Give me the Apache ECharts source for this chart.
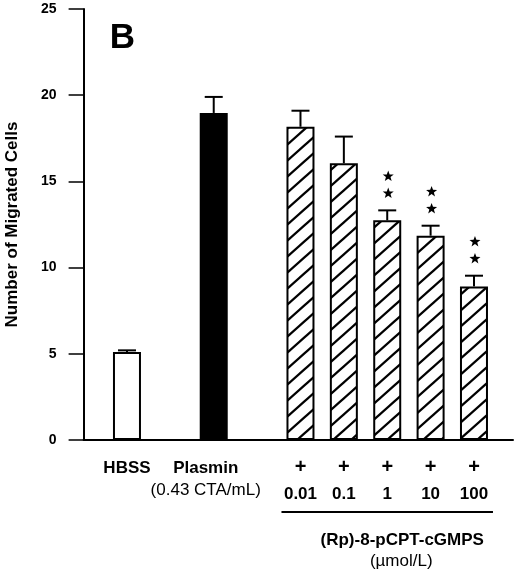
<!DOCTYPE html>
<html><head><meta charset="utf-8">
<script src="https://cdn.jsdelivr.net/npm/echarts@6/dist/echarts.min.js"></script>
<style>html,body{margin:0;padding:0;background:#fff}#c{width:520px;height:571px}</style>
</head><body><div id="c"></div>
<script>
// ---- data ----
const categories = ['HBSS', 'Plasmin', '0.01', '0.1', '1', '10', '100'];
const means = [5.1, 18.97, 18.17, 16.05, 12.74, 11.85, 8.91];
const errors = [0.1, 0.93, 0.93, 1.55, 0.58, 0.58, 0.62];
const stars = [0, 0, 0, 0, 2, 2, 2];
const plasminDose = '(0.43 CTA/mL)';
const drugMark = '+';
const drugName = '(Rp)-8-pCPT-cGMPS';
const drugUnit = '(µmol/L)';
const yTicks = [0, 5, 10, 15, 20, 25];
const panelLabel = 'B';
const yTitle = 'Number of Migrated Cells';

// ---- layout helpers ----
const FF = '"Liberation Sans", Arial, Helvetica, sans-serif';
// HBSS, gap, Plasmin, gap, five doses
const slotOf = i => (i < 2 ? 1 + 2 * i : i + 3);

function hatchCanvas() {
  const w = 18, h = 16, c = document.createElement('canvas');
  c.width = w; c.height = h;
  const g = c.getContext('2d');
  g.fillStyle = '#fff'; g.fillRect(0, 0, w, h);
  g.strokeStyle = '#000'; g.lineWidth = 2.3;
  for (let k = -1; k <= 1; k++) {
    g.beginPath();
    g.moveTo(-2, h + k * h + 2 * h / w);
    g.lineTo(w + 2, k * h - 2 * h / w);
    g.stroke();
  }
  return c;
}
const hatch = { image: hatchCanvas(), repeat: 'repeat' };

function styleFor(i) {
  const base = { borderColor: '#000', borderWidth: 2 };
  if (i === 0) return Object.assign({ color: '#fff' }, base);
  if (i === 1) return Object.assign({ color: '#000' }, base);
  return Object.assign({ color: hatch }, base);
}

function starPts(cx, cy, R, r) {
  const p = [];
  for (let j = 0; j < 10; j++) {
    const a = -Math.PI / 2 + j * Math.PI / 5;
    const rad = j % 2 ? r : R;
    p.push([cx + rad * Math.cos(a), cy + rad * Math.sin(a)]);
  }
  return p;
}

function labelFor(value) {
  const i = categories.findIndex((c, k) => slotOf(k) === value);
  if (i < 0) return '';
  if (i === 0) return '{b|' + categories[0] + '}';
  if (i === 1) return '{bp|' + categories[1] + '}\n{np|' + plasminDose + '}';
  return '{pl|' + drugMark + '}\n{num|' + categories[i] + '}';
}

const barData = categories.map((c, i) => ({ value: [slotOf(i), means[i]], itemStyle: styleFor(i) }));
const errData = categories.map((c, i) => [slotOf(i), means[i], means[i] + errors[i], stars[i]]);
const groupData = [[slotOf(2), slotOf(categories.length - 1)]];

const chart = echarts.init(document.getElementById('c'), null, { renderer: 'canvas' });
chart.setOption({
  animation: false,
  backgroundColor: '#fff',
  grid: { left: 83.6, top: 9, right: 520 - 83.6 - 9.9 * 43.375, bottom: 131, outerBoundsMode: 'none', containLabel: false },
  xAxis: {
    type: 'value', min: 0, max: 9.9, interval: 1,
    axisLine: { show: true, onZero: false, lineStyle: { color: '#000', width: 2 } },
    axisTick: { show: false },
    splitLine: { show: false },
    axisLabel: {
      margin: 17, showMaxLabel: false, formatter: labelFor, color: '#000',
      rich: {
        b: { fontFamily: FF, fontWeight: 'bold', fontSize: 17, lineHeight: 22, color: '#000' },
        bp: { fontFamily: FF, fontWeight: 'bold', fontSize: 17, lineHeight: 22, color: '#000', padding: [0, 16, 0, 0] },
        np: { fontFamily: FF, fontSize: 17, lineHeight: 22, color: '#000', padding: [0, 16, 0, 0] },
        pl: { fontFamily: FF, fontWeight: 'bold', fontSize: 20, lineHeight: 20, color: '#000' },
        num: { fontFamily: FF, fontWeight: 'bold', fontSize: 17, lineHeight: 34, color: '#000' }
      }
    }
  },
  yAxis: {
    type: 'value', min: yTicks[0], max: yTicks[yTicks.length - 1], interval: yTicks[1] - yTicks[0],
    name: yTitle, nameLocation: 'middle', nameGap: 63,
    nameTextStyle: { fontFamily: FF, fontWeight: 'bold', fontSize: 17, color: '#000' },
    axisLine: { show: true, lineStyle: { color: '#000', width: 2 } },
    axisTick: { show: true, length: 15, lineStyle: { color: '#000', width: 1.5 } },
    axisLabel: { margin: 27, fontFamily: FF, fontWeight: 'bold', fontSize: 14, color: '#000' },
    splitLine: { show: false }
  },
  graphic: [{
    type: 'text', x: 122.5, y: 38,
    style: { text: panelLabel, fontFamily: FF, fontWeight: 'bold', fontSize: 35, fill: '#000', align: 'center', verticalAlign: 'middle' }
  }],
  series: [
    { type: 'bar', data: barData, barWidth: 28, z: 2 },
    {
      type: 'custom', z: 3, clip: false, data: errData,
      renderItem(params, api) {
        const x = api.value(0);
        const base = api.coord([x, api.value(1)]);
        const top = api.coord([x, api.value(2)]);
        const n = api.value(3);
        const cw = 9;
        const children = [
          { type: 'line', shape: { x1: base[0], y1: base[1], x2: top[0], y2: top[1] }, style: { stroke: '#000', lineWidth: 2 } },
          { type: 'line', shape: { x1: top[0] - cw, y1: top[1], x2: top[0] + cw, y2: top[1] }, style: { stroke: '#000', lineWidth: 2 } }
        ];
        for (let k = 0; k < n; k++) {
          children.push({ type: 'polygon', shape: { points: starPts(top[0] + 1, top[1] - 17 - 17 * k, 5.8, 2.4) }, style: { fill: '#000' } });
        }
        return { type: 'group', children };
      }
    },
    {
      type: 'custom', z: 3, clip: false, data: groupData,
      encode: { x: [0, 1] },
      renderItem(params, api) {
        const a = api.coord([api.value(0), 0]);
        const b = api.coord([api.value(1), 0]);
        const x1 = a[0] - 19, x2 = b[0] + 19, y0 = a[1];
        const cx = (x1 + x2) / 2 + 15;
        return {
          type: 'group', children: [
            { type: 'line', shape: { x1, y1: y0 + 72, x2, y2: y0 + 72 }, style: { stroke: '#000', lineWidth: 2 } },
            { type: 'text', x: cx, y: y0 + 100, style: { text: drugName, fontFamily: FF, fontWeight: 'bold', fontSize: 17, fill: '#000', align: 'center', verticalAlign: 'middle' } },
            { type: 'text', x: cx - 1, y: y0 + 121, style: { text: drugUnit, fontFamily: FF, fontSize: 17, fill: '#000', align: 'center', verticalAlign: 'middle' } }
          ]
        };
      }
    }
  ]
});
</script>
</body></html>
